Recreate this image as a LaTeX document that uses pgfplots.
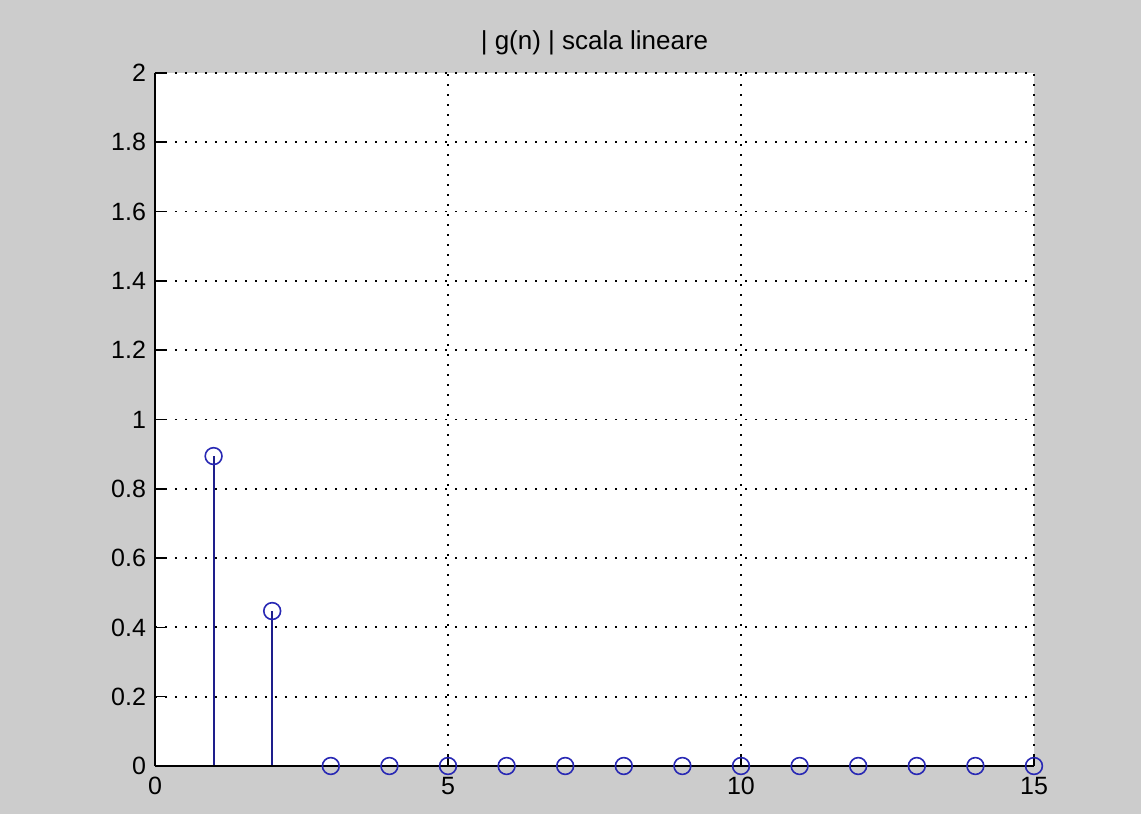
\documentclass[border=0pt]{standalone}
\usepackage{pgfplots}
\pgfplotsset{compat=1.18}
\usepackage{fontspec}
\setmainfont{Liberation Sans}
\definecolor{bggray}{RGB}{204,204,204}
\definecolor{stemblue}{RGB}{30,30,140}
\definecolor{markblue}{RGB}{40,40,180}
\begin{document}
\begin{tikzpicture}
\fill[bggray, use as bounding box] (-77.5pt,-24pt) rectangle (493pt,383pt);
\begin{axis}[
  scale only axis,
  at={(0,0)}, anchor=south west,
  width=439.5pt, height=346.5pt,
  xmin=0, xmax=15, ymin=0, ymax=2,
  xtick={0,5,10,15},
  ytick={0,0.2,0.4,0.6,0.8,1,1.2,1.4,1.6,1.8,2},
  yticklabels={0,0.2,0.4,0.6,0.8,1,1.2,1.4,1.6,1.8,2},
  xticklabels={0,5,10,15},
  axis x line*=bottom, axis y line*=left,
  axis line style={black, line width=0.9pt},
  tick align=inside,
  major tick length=5pt,
  tick style={black, line width=0.8pt},
  grid=major,
  major grid style={black, line width=0.9pt, dash pattern=on 0.9pt off 4.1pt},
  axis background/.style={fill=white},
  tick label style={font=\fontsize{12.5}{14}\selectfont},
  xticklabel style={yshift=-2pt},
  yticklabel style={xshift=-1pt},
  clip=false,
]
\addplot[ycomb, draw=stemblue, color=stemblue, line width=1pt, mark=o, mark size=4.2pt,
  mark options={solid, line width=0.8pt, draw=markblue}]
  coordinates {(1,0.8944) (2,0.4472) (3,0) (4,0) (5,0) (6,0) (7,0) (8,0)
  (9,0) (10,0) (11,0) (12,0) (13,0) (14,0) (15,0)};
\draw[black, line width=0.9pt] (axis cs:0,0) -- (axis cs:15,0);
\node[anchor=base, inner sep=0pt, yshift=11.5pt, font=\fontsize{13}{15}\selectfont]
  at (rel axis cs:0.5,1) {| g(n) | scala lineare};
\end{axis}
\end{tikzpicture}
\end{document}
